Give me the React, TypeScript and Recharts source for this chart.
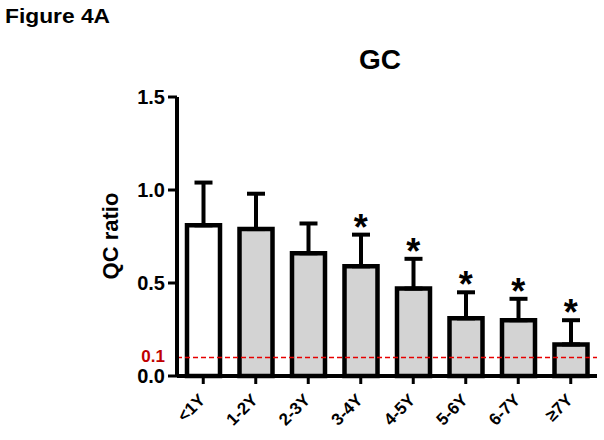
import React from 'react';
import { ComposedChart, Bar, Cell, ErrorBar, XAxis, YAxis, ReferenceLine, Line } from 'recharts';

const categories = ['<1Y', '1-2Y', '2-3Y', '3-4Y', '4-5Y', '5-6Y', '6-7Y', '≥7Y'];
const means = [0.81, 0.79, 0.66, 0.59, 0.47, 0.31, 0.30, 0.17];
const errors = [0.23, 0.19, 0.16, 0.17, 0.16, 0.14, 0.115, 0.13];
const significant = [false, false, false, true, true, true, true, true];
const fills = ['#ffffff', '#d3d3d3', '#d3d3d3', '#d3d3d3', '#d3d3d3', '#d3d3d3', '#d3d3d3', '#d3d3d3'];
const yTicks = [0, 0.1, 0.5, 1.0, 1.5];
const threshold = 0.1;

const data = categories.map((c, i) => ({
  cat: c,
  value: means[i],
  err: [0, errors[i]],
  star: significant[i] ? means[i] + errors[i] : null,
}));

const FONT = '"Liberation Sans", Arial, Helvetica, sans-serif';
const AXIS_X = 177;

const YTick = (props: any) => {
  const { y, payload } = props;
  const v = payload.value;
  const isRef = Math.abs(v - threshold) < 1e-6;
  return (
    <g>
      {!isRef && <line x1={AXIS_X - 9} x2={AXIS_X} y1={y} y2={y} stroke="#000" strokeWidth={3} />}
      <text
        x={AXIS_X - 12}
        y={y}
        dy={isRef ? 5 : 7}
        textAnchor="end"
        fill={isRef ? '#c00000' : '#000'}
        fontSize={isRef ? 17 : 20}
        fontWeight="bold"
        fontFamily={FONT}
      >
        {v.toFixed(1)}
      </text>
    </g>
  );
};

const XTick = (props: any) => {
  const { x, y, payload } = props;
  const ax = x + 3;
  const ay = y + 15;
  return (
    <text
      x={ax}
      y={ay}
      transform={`rotate(-45 ${ax} ${ay})`}
      textAnchor="end"
      fontSize={17}
      fontWeight="bold"
      fontFamily={FONT}
      fill="#000"
    >
      {payload.value}
    </text>
  );
};

const StarDot = (props: any) => {
  const { cx, cy, index } = props;
  if (cy == null || cx == null || Number.isNaN(cy)) return <g key={`s${index}`} />;
  return (
    <text
      key={`s${index}`}
      x={cx}
      y={cy + 5}
      textAnchor="middle"
      fontSize={36}
      fontWeight="bold"
      fontFamily={FONT}
      fill="#000"
    >
      *
    </text>
  );
};

export default function App() {
  return (
    <div style={{ position: 'absolute', left: 0, top: 0, width: 604, height: 440, background: '#fff' }}>
      <ComposedChart
        width={604}
        height={440}
        data={data}
        margin={{ top: 97, right: 7, bottom: 0, left: 0 }}
      >
        <XAxis
          dataKey="cat"
          interval={0}
          height={64}
          tick={<XTick />}
          tickSize={8}
          tickLine={{ stroke: '#000', strokeWidth: 3 }}
          axisLine={{ stroke: '#000', strokeWidth: 4 }}
        />
        <YAxis
          width={AXIS_X}
          domain={[0, 1.5]}
          ticks={yTicks}
          interval={0}
          tick={<YTick />}
          tickLine={false}
          axisLine={{ stroke: '#000', strokeWidth: 4 }}
        />
        <Bar dataKey="value" barSize={33} stroke="#000" strokeWidth={4.5} isAnimationActive={false}>
          {data.map((d, i) => (
            <Cell key={d.cat} fill={fills[i]} />
          ))}
          <ErrorBar dataKey="err" direction="y" width={9} stroke="#000" strokeWidth={4} isAnimationActive={false} />
        </Bar>
        <ReferenceLine y={threshold} stroke="#e60000" strokeWidth={1.5} strokeDasharray="5 3" />
        <Line
          dataKey="star"
          stroke="none"
          dot={StarDot}
          activeDot={false}
          legendType="none"
          isAnimationActive={false}
        />
      </ComposedChart>
      <svg
        width={604}
        height={440}
        style={{ position: 'absolute', left: 0, top: 0, pointerEvents: 'none' }}
      >
        <text x={5} y={23} fontSize={20} fontWeight="bold" fontFamily={FONT} textLength={105} lengthAdjust="spacingAndGlyphs">
          Figure 4A
        </text>
        <text x={380} y={69} textAnchor="middle" fontSize={28} fontWeight="bold" fontFamily={FONT}>
          GC
        </text>
        <text
          x={118}
          y={236}
          transform="rotate(-90 118 236)"
          textAnchor="middle"
          fontSize={22}
          fontWeight="bold"
          fontFamily={FONT}
        >
          QC ratio
        </text>
      </svg>
    </div>
  );
}
